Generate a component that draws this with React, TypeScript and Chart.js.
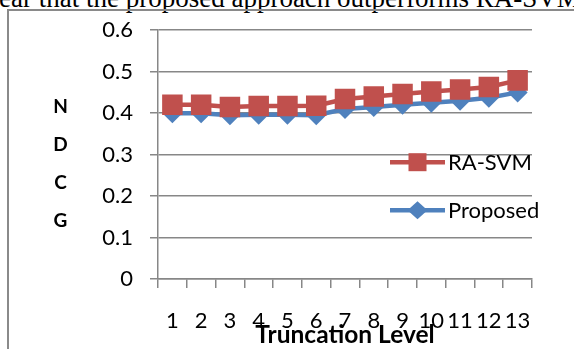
import React, { useEffect, useRef } from "react";
import { Chart, registerables } from "chart.js";

Chart.register(...registerables);

const categories = ["1", "2", "3", "4", "5", "6", "7", "8", "9", "10", "11", "12", "13"];
const raSvm = [0.42, 0.42, 0.415, 0.417, 0.417, 0.418, 0.434, 0.44, 0.446, 0.452, 0.457, 0.463, 0.479];
const proposed = [0.4, 0.4, 0.395, 0.396, 0.396, 0.395, 0.41, 0.415, 0.42, 0.425, 0.43, 0.437, 0.45];
const seriesNames = ["RA-SVM", "Proposed"];
const yMin = 0;
const yMax = 0.6;
const yStep = 0.1;
const yTitleLetters = ["N", "D", "C", "G"];
const xTitle = "Truncation Level";
const topText = "ear that the proposed approach outperforms RA-SVM";

const RED = "#C0504D";
const BLUE = "#4F81BD";
const GRID = "#878787";

const decorations = {
  id: "decorations",
  afterDraw(chart: any) {
    const { ctx, chartArea } = chart;
    ctx.save();
    ctx.fillStyle = "#000";
    ctx.textAlign = "center";
    ctx.textBaseline = "alphabetic";
    // x title
    ctx.font = "bold 24.5px Lato";
    ctx.fillText(xTitle, (chartArea.left + chartArea.right) / 2, chartArea.bottom + 64);
    // y title (stacked letters)
    ctx.font = "bold 19px Lato";
    yTitleLetters.forEach((ch: string, i: number) => {
      ctx.fillText(ch, chartArea.left - 97.5, chartArea.top + 83 + i * 37.8);
    });
    // legend
    chart.data.datasets.forEach((ds: any, i: number) => {
      const y = chartArea.top + 132 + i * 48;
      const x0 = chartArea.right - 142;
      ctx.strokeStyle = ds.borderColor;
      ctx.lineWidth = 4.5;
      ctx.beginPath();
      ctx.moveTo(x0, y);
      ctx.lineTo(x0 + 55, y);
      ctx.stroke();
      ctx.fillStyle = ds.backgroundColor;
      const cx = x0 + 27.5;
      if (ds.pointStyle === "rect") {
        ctx.fillRect(cx - 9, y - 9, 18, 18);
      } else {
        ctx.beginPath();
        ctx.moveTo(cx - 10, y);
        ctx.lineTo(cx, y - 9);
        ctx.lineTo(cx + 10, y);
        ctx.lineTo(cx, y + 9);
        ctx.closePath();
        ctx.fill();
      }
      ctx.fillStyle = "#000";
      ctx.font = "22px Lato";
      ctx.textAlign = "left";
      ctx.textBaseline = "alphabetic";
      ctx.fillText(ds.label, x0 + 58, y + 8);
    });
    ctx.restore();
  },
};

export default function App() {
  const ref = useRef<HTMLCanvasElement>(null);
  useEffect(() => {
    if (!ref.current) return;
    const chart = new Chart(ref.current, {
      type: "line",
      data: {
        labels: categories,
        datasets: [
          {
            label: seriesNames[0],
            data: raSvm,
            borderColor: RED,
            backgroundColor: RED,
            borderWidth: 4.5,
            pointStyle: "rect",
            pointRadius: 14.5,
            pointBorderWidth: 0,
            pointBackgroundColor: RED,
            tension: 0,
          },
          {
            label: seriesNames[1],
            data: proposed,
            borderColor: BLUE,
            backgroundColor: BLUE,
            borderWidth: 4.5,
            pointStyle: "rectRot",
            pointRadius: 10,
            pointBorderWidth: 0,
            pointBackgroundColor: BLUE,
            tension: 0,
          },
        ],
      },
      options: {
        responsive: false,
        animation: false,
        layout: { padding: { top: 25, right: 42, bottom: 0, left: 0 } },
        plugins: { legend: { display: false }, tooltip: { enabled: false } },
        scales: {
          x: {
            type: "category",
            offset: true,
            grid: {
              offset: true,
              drawOnChartArea: false,
              drawTicks: true,
              tickLength: 9,
              color: GRID,
              lineWidth: 1.5,
            },
            border: { display: true, color: GRID, width: 1.5 },
            ticks: {
              color: "#000",
              font: { family: "Lato", size: 22 },
              padding: 20,
              maxRotation: 0,
              autoSkip: false,
            },
            afterFit: (scale: any) => {
              scale.height = 70;
            },
          },
          y: {
            min: yMin,
            max: yMax,
            ticks: {
              stepSize: yStep,
              color: "#000",
              font: { family: "Lato", size: 22 },
              padding: 17,
              callback: (v: any) => Number(Number(v).toFixed(1)).toString(),
            },
            grid: { color: GRID, lineWidth: 1.5, tickLength: 8, drawTicks: true },
            border: { display: true, color: GRID, width: 1.5 },
            afterFit: (scale: any) => {
              scale.width = 158;
            },
          },
        },
      },
      plugins: [decorations],
    } as any);
    return () => chart.destroy();
  }, []);

  return (
    <div style={{ position: "fixed", left: 0, top: 0, width: 574, height: 349, overflow: "hidden", background: "#fff" }}>
      <div
        style={{
          position: "absolute",
          left: -1,
          top: -15.5,
          fontFamily: "'Liberation Serif', serif",
          fontSize: 27,
          lineHeight: "27px",
          whiteSpace: "nowrap",
          color: "#000",
        }}
      >
        {topText}
      </div>
      <div
        style={{
          position: "absolute",
          left: 7,
          top: 9,
          width: 600,
          height: 400,
          borderLeft: "2px solid #8a8a8a",
          borderTop: "2px solid #8a8a8a",
        }}
      />
      <canvas ref={ref} width={574} height={349} style={{ position: "absolute", left: 0, top: 0, width: 574, height: 349 }} />
    </div>
  );
}
